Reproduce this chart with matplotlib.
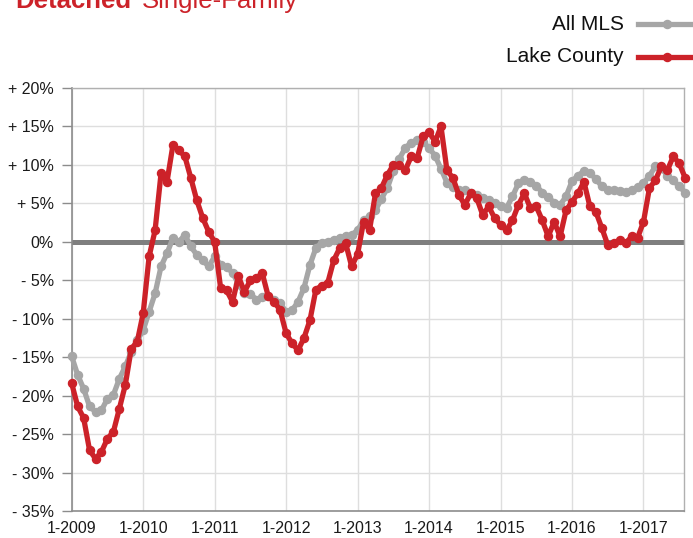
import matplotlib
matplotlib.use("Agg")
import matplotlib.pyplot as plt
from matplotlib.lines import Line2D
import numpy as np

plt.rcParams['font.family'] = ['Liberation Sans', 'DejaVu Sans']

# Monthly year-over-year change, Jan 2009 .. Aug 2017
all_mls = [
    -14.9, -17.3, -19.1, -21.4, -22.1, -21.9, -20.4, -19.9, -17.8, -16.2, -14.3, -12.8,
    -11.5, -9.1, -6.7, -3.2, -1.5, 0.5, 0.0, 0.9, -0.6, -1.7, -2.4, -3.2,
    -1.9, -3.0, -3.3, -4.0, -5.5, -6.7, -6.8, -7.5, -7.2, -7.0, -7.6, -8.0,
    -9.1, -8.9, -7.8, -6.0, -3.0, -0.8, -0.1, 0.0, 0.3, 0.5, 0.7, 0.9,
    1.5, 2.8, 3.3, 4.1, 5.6, 7.0, 9.2, 10.8, 12.2, 12.9, 13.2, 13.0,
    12.2, 11.2, 9.5, 7.7, 7.1, 6.8, 6.7, 6.4, 6.1, 5.7, 5.4, 5.0,
    4.7, 4.4, 5.9, 7.6, 8.0, 7.8, 7.3, 6.4, 5.8, 5.1, 4.8, 5.9,
    7.9, 8.6, 9.2, 8.9, 8.2, 7.2, 6.8, 6.7, 6.6, 6.5, 6.7, 7.1,
    7.6, 8.6, 9.8, 9.6, 8.6, 8.0, 7.2, 6.4,
]
lake_county = [
    -18.4, -21.4, -22.9, -27.1, -28.2, -27.3, -25.6, -24.7, -21.7, -18.6, -13.9, -13.0,
    -9.3, -1.9, 1.5, 8.9, 7.8, 12.6, 11.9, 11.1, 8.3, 5.4, 3.1, 1.3,
    0.0, -6.0, -6.3, -7.8, -4.5, -6.5, -5.0, -4.7, -4.1, -7.1, -7.8, -8.9,
    -11.9, -13.2, -14.1, -12.5, -10.2, -6.2, -5.7, -5.3, -2.4, -0.8, -0.2, -3.2,
    -1.6, 2.6, 1.5, 6.3, 7.0, 8.7, 10.0, 10.0, 9.3, 11.1, 10.9, 13.7,
    14.3, 13.0, 15.0, 9.3, 8.3, 6.1, 4.8, 6.3, 5.7, 3.5, 4.6, 3.1,
    2.2, 1.5, 2.8, 4.8, 6.3, 4.4, 4.6, 2.8, 0.7, 2.6, 0.7, 4.1,
    5.2, 6.3, 7.8, 4.6, 3.9, 1.8, -0.4, -0.2, 0.2, -0.2, 0.7, 0.5,
    2.6, 7.0, 8.0, 9.8, 9.3, 11.1, 10.2, 8.3,
]
x_labels = ['1-2009', '1-2010', '1-2011', '1-2012', '1-2013', '1-2014', '1-2015', '1-2016', '1-2017']
y_ticks = [20, 15, 10, 5, 0, -5, -10, -15, -20, -25, -30, -35]
y_labels = ['+ 20%', '+ 15%', '+ 10%', '+ 5%', '0%', '- 5%', '- 10%', '- 15%', '- 20%', '- 25%', '- 30%', '- 35%']
series_names = ['All MLS', 'Lake County']

GRAY = '#a6a6a6'
RED = '#cc2229'

W, H = 693, 538
fig = plt.figure(figsize=(W / 100, H / 100), dpi=100)
left, right, top, bottom = 71.7, 684, 88, 511
ax = fig.add_axes([left / W, (H - bottom) / H, (right - left) / W, (bottom - top) / H])

months = np.arange(len(all_mls))
ax.set_xlim(0, 102.8)
ax.set_ylim(-35, 20)

for y in y_ticks:
    ax.axhline(y, color='#dedede', lw=1.0, zorder=1)
for i in range(len(x_labels)):
    ax.axvline(i * 12, color='#dedede', lw=1.0, zorder=1)
ax.axhline(0, color='#7f7f7f', lw=3.6, zorder=2)

ax.plot(months, all_mls, color=GRAY, lw=3.8, marker='o', ms=5.8, zorder=3, clip_on=False)
ax.plot(months, lake_county, color=RED, lw=3.8, marker='o', ms=5.8, zorder=4, clip_on=False)

ax.set_yticks(y_ticks)
ax.set_yticklabels(y_labels)
ax.set_xticks([i * 12 for i in range(len(x_labels))])
ax.set_xticklabels(x_labels)
ax.tick_params(axis='y', length=7, width=1, color='#8c8c8c', labelsize=11.5, pad=6, labelcolor='#1a1a1a')
ax.tick_params(axis='x', length=0, labelsize=11.5, pad=7, labelcolor='#1a1a1a')
for s in ['left', 'bottom']:
    ax.spines[s].set_color('#8c8c8c')
    ax.spines[s].set_linewidth(1.2)
for s in ['top', 'right']:
    ax.spines[s].set_color('#b0b0b0')
    ax.spines[s].set_linewidth(1.0)

# Title (partly cut off at top, as in the reference)
fig.text(15 / W, 1 - 8 / H, 'Detached', color=RED, fontsize=18.5, fontweight='bold', va='baseline', ha='left')
fig.text(142 / W, 1 - 8 / H, 'Single-Family', color=RED, fontsize=18.5, va='baseline', ha='left')

# Legend
for name, col, yy in [(series_names[0], GRAY, 24), (series_names[1], RED, 57)]:
    fig.text(624 / W, 1 - yy / H, name, fontsize=15, ha='right', va='center', color='#111111')
    fig.add_artist(Line2D([638 / W, 700 / W], [1 - yy / H, 1 - yy / H], color=col, lw=3.8,
                          transform=fig.transFigure))
    fig.add_artist(Line2D([667 / W], [1 - yy / H], color=col, marker='o', ms=5.8,
                          transform=fig.transFigure))

fig.savefig('out.png', dpi=100)
